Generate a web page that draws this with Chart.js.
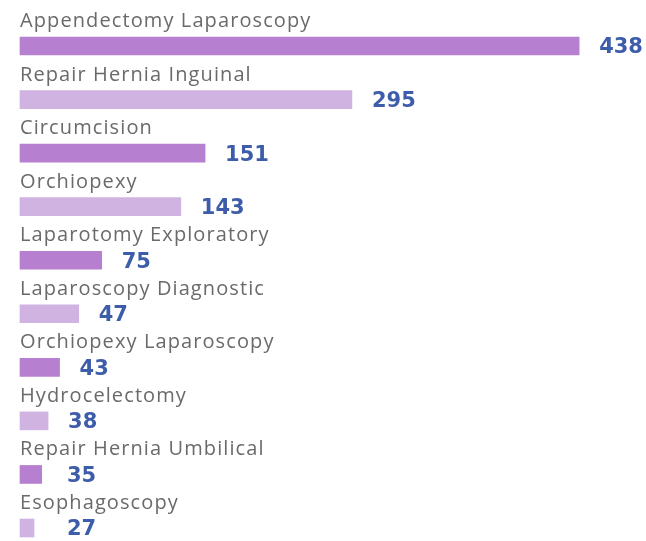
<!DOCTYPE html>
<html>
<head>
<meta charset="utf-8">
<script src="https://cdn.jsdelivr.net/npm/chart.js@4.4.1/dist/chart.umd.min.js"></script>
<style>
  html, body { margin: 0; padding: 0; background: #fff; }
  #wrap { width: 646px; height: 541px; position: relative; }
</style>
</head>
<body>
<div id="wrap"><canvas id="chart"></canvas></div>
<script>
// ─── DATA ───
const procedures = [
  'Appendectomy Laparoscopy', 'Repair Hernia Inguinal', 'Circumcision', 'Orchiopexy',
  'Laparotomy Exploratory', 'Laparoscopy Diagnostic', 'Orchiopexy Laparoscopy',
  'Hydrocelectomy', 'Repair Hernia Umbilical', 'Esophagoscopy'
];
// numbers printed next to the bars
const caseCounts = [438, 295, 151, 143, 75, 47, 43, 38, 35, 27];
// bar lengths as drawn (same units)
const barLengths = [438, 260, 145, 126, 64, 46, 31, 22, 17, 11];
const xMax = 470;

const DARK = '#b77fd0';
const LIGHT = '#d0b3e0';
const barColors = procedures.map((_, i) => i % 2 === 0 ? DARK : LIGHT);

// ─── labels: name above each bar, count to the right ───
const labelPlugin = {
  id: 'barLabels',
  afterDatasetsDraw(chart) {
    const ctx = chart.ctx;
    const meta = chart.getDatasetMeta(0);
    ctx.save();
    meta.data.forEach((bar, i) => {
      const top = bar.y - bar.height / 2;
      ctx.fillStyle = '#6a6a6a';
      ctx.font = '20px "Open Sans"';
      ctx.letterSpacing = '1.1px';
      ctx.textAlign = 'left';
      ctx.textBaseline = 'alphabetic';
      ctx.fillText(procedures[i], bar.base, top - 10);

      ctx.letterSpacing = '0px';
      ctx.fillStyle = '#3d5ca9';
      ctx.font = 'bold 21px "DejaVu Sans"';
      ctx.textBaseline = 'middle';
      const x = Math.max(bar.x + 20, 67);
      ctx.fillText(String(caseCounts[i]), x, bar.y + 2);
    });
    ctx.restore();
  }
};

new Chart(document.getElementById('chart'), {
  type: 'bar',
  data: {
    labels: procedures,
    datasets: [{
      data: barLengths,
      backgroundColor: barColors,
      borderWidth: 0,
      barThickness: 18,
      clip: false
    }]
  },
  options: {
    indexAxis: 'y',
    responsive: true,
    maintainAspectRatio: false,
    animation: false,
    layout: { padding: { left: 20, right: 26, top: 46, bottom: 13 } },
    plugins: { legend: { display: false }, tooltip: { enabled: false } },
    scales: {
      x: { display: false, min: 0, max: xMax },
      y: { display: false, offset: false }
    }
  },
  plugins: [labelPlugin]
});
</script>
</body>
</html>
